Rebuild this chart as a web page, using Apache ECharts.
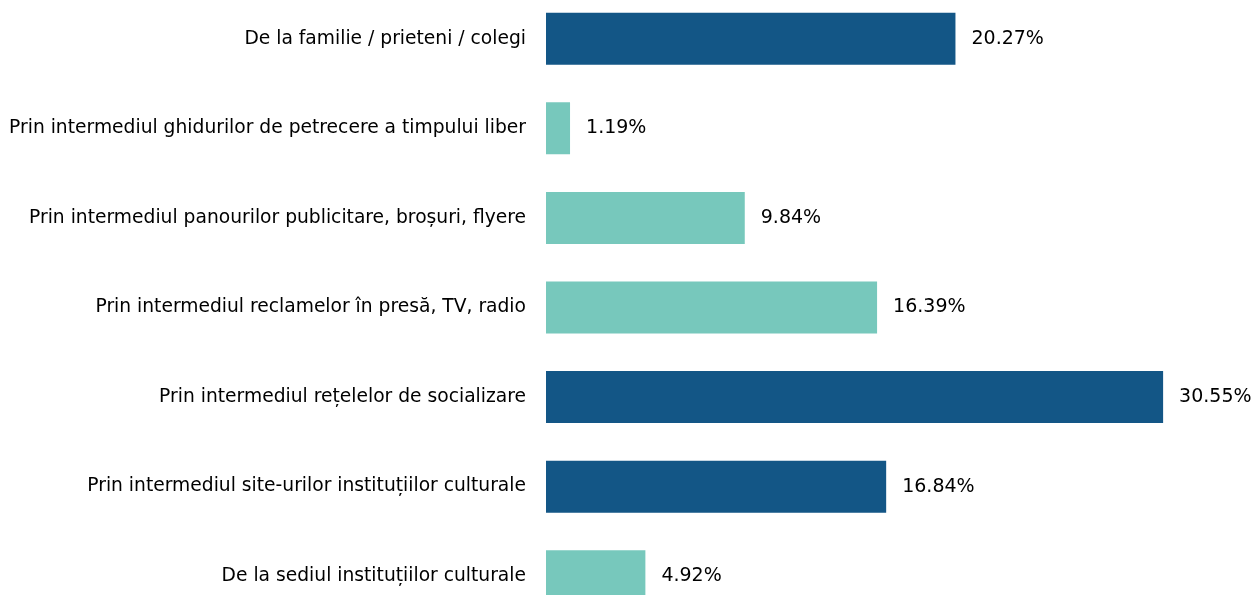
<!DOCTYPE html>
<html>
<head>
<meta charset="utf-8">
<script src="https://cdn.jsdelivr.net/npm/echarts@6/dist/echarts.min.js"></script>
<style>
  html, body { margin: 0; padding: 0; background: #fff; }
  #main { width: 1255px; height: 595px; }
</style>
</head>
<body>
<div id="main"></div>
<script>
var categories = [
    'De la familie / prieteni / colegi',
    'Prin intermediul ghidurilor de petrecere a timpului liber',
    'Prin intermediul panourilor publicitare, broșuri, flyere',
    'Prin intermediul reclamelor în presă, TV, radio',
    'Prin intermediul rețelelor de socializare',
    'Prin intermediul site-urilor instituțiilor culturale',
    'De la sediul instituțiilor culturale'
];
var values = [20.27, 1.19, 9.84, 16.39, 30.55, 16.84, 4.92];
// dark = 1, teal = 0
var highlight = [1, 0, 0, 0, 1, 1, 0];

var dark = '#135686';
var teal = '#77c8bc';

var chart = echarts.init(document.getElementById('main'));
chart.setOption({
    animation: false,
    textStyle: { fontFamily: 'DejaVu Sans' },
    grid: {
        left: 546, top: -6, width: 707, height: 627,
        containLabel: false,
        outerBoundsMode: 'none'
    },
    xAxis: {
        type: 'value',
        min: 0,
        max: 35,
        show: false
    },
    yAxis: {
        type: 'category',
        inverse: true,
        data: categories,
        axisLine: { show: false },
        axisTick: { show: false },
        axisLabel: { color: '#000', fontSize: 18.7, margin: 20 }
    },
    series: [{
        type: 'bar',
        barWidth: 52,
        data: values.map(function (v, i) {
            return { value: v, itemStyle: { color: highlight[i] ? dark : teal } };
        }),
        label: {
            show: true,
            position: 'right',
            distance: 16,
            color: '#000',
            fontSize: 19,
            formatter: function (p) { return p.value.toFixed(2) + '%'; }
        }
    }]
});
</script>
</body>
</html>
